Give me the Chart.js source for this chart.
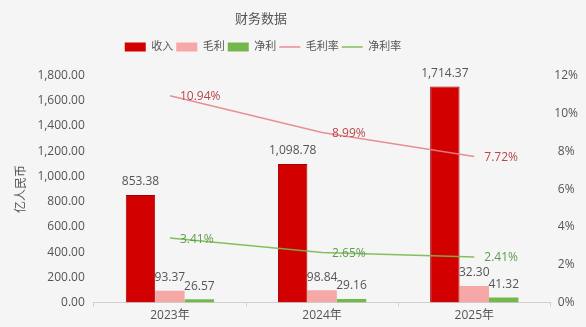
<!DOCTYPE html>
<html>
<head>
<meta charset="utf-8">
<script src="https://cdn.jsdelivr.net/npm/chart.js@4"></script>
<style>
  body { margin: 0; background: #f6f5f5; }
  #wrap { width: 586px; height: 327px; }
</style>
</head>
<body>
<div id="wrap"><canvas id="myChart" width="586" height="327"></canvas></div>
<script>
// data
const years = ['2023年', '2024年', '2025年'];
const revenue = [853.38, 1098.78, 1714.37];
const grossProfit = [93.37, 98.84, 132.30];
const grossProfitText = ['93.37', '98.84', '32.30']; // label as printed on the chart
const netProfit = [26.57, 29.16, 41.32];
const grossMargin = [10.94, 8.99, 7.72];
const netMargin = [3.41, 2.65, 2.41];

const fontFamily = '"Open Sans", "Noto Sans CJK SC", sans-serif';

// value labels drawn over the chart
const valueLabels = {
    id: 'valueLabels',
    afterDatasetsDraw(chart) {
        const ctx = chart.ctx;
        ctx.save();
        ctx.font = '12px ' + fontFamily;
        chart.data.datasets.forEach(function (ds, i) {
            const meta = chart.getDatasetMeta(i);
            meta.data.forEach(function (el, j) {
                if (ds.type === 'line') {
                    ctx.fillStyle = ds.labelColor;
                    ctx.textAlign = 'left';
                    ctx.textBaseline = 'middle';
                    ctx.fillText(ds.data[j].toFixed(2) + '%', el.x + 10, el.y + 1);
                } else {
                    ctx.fillStyle = '#555';
                    ctx.textAlign = 'center';
                    ctx.textBaseline = 'bottom';
                    const txt = ds.labelText ? ds.labelText[j] : ds.data[j].toLocaleString('en-US', { minimumFractionDigits: 2 });
                    ctx.fillText(txt, el.x, el.y - 7);
                }
            });
        });
        ctx.restore();
    }
};

// extra space under the legend, and title + legend sit left of centre
const legendMargin = {
    id: 'legendMargin',
    beforeInit(chart) {
        const fit = chart.legend.fit;
        chart.legend.fit = function () {
            fit.bind(chart.legend)();
            this.height += 13;
        };
    },
    afterLayout(chart) {
        chart.legend.right -= 70;
        chart.titleBlock.right -= 74;
    }
};

const ctx = document.getElementById('myChart').getContext('2d');
const chart = new Chart(ctx, {
    data: {
        labels: years,
        datasets: [{
            type: 'bar',
            label: '收入',
            data: revenue,
            backgroundColor: '#d30000',
            borderColor: '#a30000',
            borderWidth: 1,
            yAxisID: 'y',
            order: 1
        }, {
            type: 'bar',
            label: '毛利',
            data: grossProfit,
            labelText: grossProfitText,
            backgroundColor: '#f6a7a7',
            borderColor: '#f6a7a7',
            borderWidth: 0,
            yAxisID: 'y',
            order: 1
        }, {
            type: 'bar',
            label: '净利',
            data: netProfit,
            backgroundColor: '#74b84c',
            borderColor: '#74b84c',
            borderWidth: 0,
            yAxisID: 'y',
            order: 1
        }, {
            type: 'line',
            label: '毛利率',
            data: grossMargin,
            borderColor: 'rgba(232, 130, 140, 0.9)',
            backgroundColor: 'rgba(232, 130, 140, 0.9)',
            labelColor: '#b8474d',
            borderWidth: 1.5,
            pointRadius: 0,
            yAxisID: 'y1',
            order: 0
        }, {
            type: 'line',
            label: '净利率',
            data: netMargin,
            borderColor: 'rgba(120, 185, 75, 0.9)',
            backgroundColor: 'rgba(120, 185, 75, 0.9)',
            labelColor: '#5c9c4c',
            borderWidth: 1.5,
            pointRadius: 0,
            yAxisID: 'y1',
            order: 0
        }]
    },
    options: {
        responsive: false,
        animation: false,
        layout: { padding: { left: 14, right: 4, top: 11, bottom: 2 } },
        datasets: {
            bar: { categoryPercentage: 0.58, barPercentage: 1.0 }
        },
        plugins: {
            title: {
                display: true,
                text: '财务数据',
                color: '#555',
                font: { family: fontFamily, size: 13, weight: 'normal' },
                padding: { top: 0, bottom: 12 }
            },
            legend: {
                labels: {
                    usePointStyle: true,
                    pointStyleWidth: 21,
                    boxHeight: 9,
                    padding: 3,
                    color: '#555',
                    font: { family: fontFamily, size: 11 },
                    sort: function (a, b) { return a.datasetIndex - b.datasetIndex; },
                    generateLabels: function (chart) {
                        return chart.data.datasets.map(function (ds, i) {
                            return {
                                text: ds.label,
                                datasetIndex: i,
                                fillStyle: ds.backgroundColor,
                                strokeStyle: ds.borderColor,
                                lineWidth: ds.type === 'line' ? 1.5 : 0,
                                pointStyle: ds.type === 'line' ? 'line' : 'rect',
                                fontColor: '#555',
                                hidden: false
                            };
                        });
                    }
                }
            },
            tooltip: { enabled: false }
        },
        scales: {
            x: {
                grid: { display: true, drawOnChartArea: false, tickLength: 4, color: '#cfcfcf', offset: true },
                border: { color: '#cfcfcf' },
                ticks: { color: '#555', font: { family: fontFamily, size: 12 }, padding: 2 }
            },
            y: {
                position: 'left',
                min: 0,
                max: 1800,
                ticks: {
                    stepSize: 200,
                    color: '#555',
                    font: { family: fontFamily, size: 12 },
                    padding: 9,
                    callback: function (v) { return v.toLocaleString('en-US', { minimumFractionDigits: 2, maximumFractionDigits: 2 }); }
                },
                grid: { display: false, drawTicks: false },
                border: { display: false },
                title: {
                    display: true,
                    text: '亿人民币',
                    color: '#555',
                    font: { family: fontFamily, size: 12 },
                    padding: { top: 0, bottom: 0 }
                }
            },
            y1: {
                position: 'right',
                min: 0,
                max: 12,
                ticks: {
                    stepSize: 2,
                    color: '#555',
                    font: { family: fontFamily, size: 12 },
                    crossAlign: 'center',
                    padding: 4,
                    callback: function (v) { return v + '%'; }
                },
                grid: { display: false, drawTicks: false },
                border: { display: false }
            }
        }
    },
    plugins: [valueLabels, legendMargin]
});
</script>
</body>
</html>
